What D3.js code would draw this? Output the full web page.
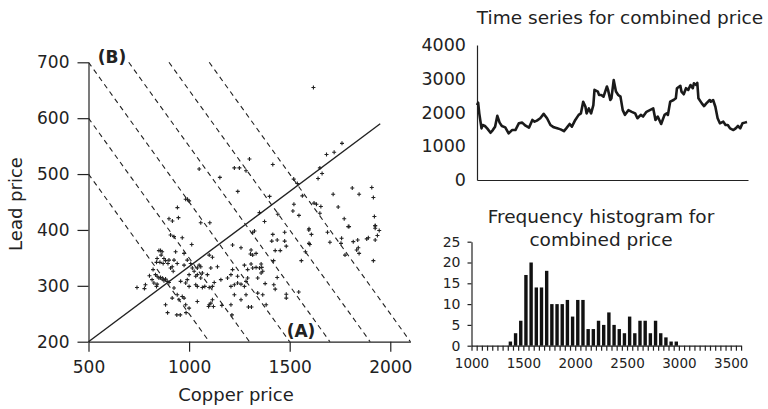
<!DOCTYPE html>
<html>
<head>
<meta charset="utf-8">
<script src="https://cdn.jsdelivr.net/npm/d3@7"></script>
<style>
body { margin: 0; background: #fff; }
svg text { font-family: "DejaVu Sans", sans-serif; fill: #222; }
</style>
</head>
<body>
<svg id="chart" width="768" height="409"></svg>
<script>
// scatter: [copper price, lead price]
const pricePoints = [
  [741,297],[783,302],[778,295],[803,318],[821,329],[841,349],[850,363],[858,363],[866,361],[861,355],
  [875,349],[883,345],[838,342],[855,342],[871,340],[833,320],[841,317],[850,314],[858,315],[866,312],
  [875,309],[883,312],[891,308],[900,306],[816,311],[825,305],[841,303],[838,299],[908,332],[916,334],
  [921,326],[895,340],[900,346],[925,346],[941,340],[933,361],[908,391],[925,388],[966,386],[1013,374],
  [975,358],[991,346],[975,337],[1008,340],[1016,332],[1000,320],[991,311],[1025,326],[1041,332],[1050,337],
  [1058,334],[1041,320],[1033,317],[1058,314],[1066,323],[958,308],[983,305],[1000,299],[1033,302],[1041,299],
  [925,296],[941,284],[950,275],[966,281],[975,278],[983,266],[1000,260],[916,278],[883,266],[1100,355],
  [1116,351],[1141,334],[1108,332],[1091,320],[1100,297],[1116,299],[1078,299],[1066,297],[1125,306],[1041,272],
  [1100,266],[1108,269],[1116,275],[1158,311],[1191,314],[1208,320],[1216,329],[1241,317],[1216,373],[1258,368],
  [1308,364],[1305,357],[1316,355],[1333,358],[1208,299],[1225,302],[1241,305],[1258,303],[1275,299],[1283,308],
  [1291,314],[1225,284],[1208,266],[1258,275],[1283,284],[1275,337],[1291,329],[1308,339],[1316,332],[1333,333],
  [1350,332],[1358,323],[1341,314],[1358,339],[1325,398],[1316,395],[1383,266],[1366,284],[1341,287],
  [1416,392],[1411,380],[1438,382],[1475,396],[1475,380],[1483,371],[1428,363],[1453,363],[1420,345],[1361,333],
  [1366,326],[1438,315],[1378,304],[1421,302],[1428,294],[1483,285],[1483,278],[1545,289],[1558,345],[1595,400],
  [1608,392],[1596,376],[1600,374],[1578,361],[1688,396],[1700,378],[1755,376],[1758,385],[1775,355],[1795,406],
  [1816,379],[1838,382],[1841,368],[1833,364],[1845,358],[1883,384],[1891,386],[1916,345],[1925,408],[1925,403],
  [1945,399],[1936,390],[1925,382],
  [1416,517],[1683,535],[1721,539],[1650,511],[1661,501],[1641,492],[1520,491],[1538,483],[1400,460],[1563,461],
  [1811,475],[1908,476],[1845,464],[1916,458],[1716,464],[1521,446],[1516,434],[1621,448],[1633,446],[1655,442],
  [1741,441],[1650,430],[1546,426],[1771,420],[1791,406],[1921,424],[1925,407],[1375,415],[1441,428],[1596,402],
  [1300,527],[1225,511],[1250,511],[1283,506],[1050,509],[1153,494],[1242,469],[992,455],[983,455],[1000,452],
  [942,440],[947,422],[900,420],[917,416],[1058,413],[1103,413],[1350,431],
  [1618,655],[1760,555],[893,252],[939,248],[956,248],[985,252],[1097,263],[1121,263],[1163,265],[1213,248],
  [1295,262],[1310,262]
];
const copperTicks = [500, 1000, 1500, 2000];
const leadTicks = [200, 300, 400, 500, 600, 700];
// dashed iso-lines: copper + 2*lead = level
const isoLevels = [1500, 1700, 1900, 2100, 2300, 2500];
const fitLine = [[500, 200], [1950, 590]];

// time series of combined price (month index, value)
const tsMonth = [0,1,2,4,5,7,9,12,14,16,18,20,22,25,28,31,34,37,40,43,46,49,51,53,56,59,62,65,68,71,
  74,77,79,82,84,87,90,92,94,96,97,99,101,103,104,107,108,110,112,115,116,118,119,121,123,125,127,129,131,134,
  137,140,142,145,147,150,153,156,158,160,163,166,168,169,171,174,176,177,180,181,183,185,187,189,191,192,194,195,196,199,
  201,203,206,207,209,211,213,215,218,220,222,224,227,229,231,233,235,237,239];
const tsValue = [2220,2290,1975,1530,1630,1600,1530,1400,1480,1580,1900,1700,1600,1560,1380,1480,1480,1680,1700,1610,
  1550,1780,1730,1760,1830,1960,1830,1630,1560,1530,1500,1450,1530,1660,1580,1780,1930,1975,2320,2170,
  1975,2120,1975,2220,2670,2620,2520,2520,2470,2770,2670,2370,2420,2960,2620,2520,2470,2070,1930,2070,
  2020,1975,1830,1930,1880,2020,2070,2120,1780,1880,1660,1930,1975,1930,2320,2370,2420,2720,2790,2620,
  2540,2720,2670,2815,2720,2865,2815,2880,2420,2270,2190,2270,2370,2320,2370,2170,1830,1680,1730,1630,
  1630,1530,1480,1530,1600,1530,1680,1700,1720];
const tsTicks = [0, 1000, 2000, 3000, 4000];

// histogram of combined price
const histBinStart = [1350,1400,1450,1500,1550,1600,1650,1700,1750,1800,1850,1900,1950,2000,2050,2100,2150,
  2200,2250,2300,2350,2400,2450,2500,2550,2600,2650,2700,2750,2800,2850,2900,2950];
const histCount = [1,3,6,17,20,14,14,18,10,10,10,11,7,11,11,4,4,6,5,8,5,4,3,7,3,6,6,3,6,3,2,1,1];
const histYTicks = [0, 5, 10, 15, 20, 25];
const histXLabels = [1000, 1500, 2000, 2500, 3000, 3500];

const INK = "#222";
const plain = d3.format("d");
const svg = d3.select("#chart");

function styleAxis(g) {
  g.selectAll("path, line").attr("stroke", INK).attr("stroke-width", 1.2);
  g.selectAll("text").attr("fill", INK);
}

// ---------- scatter ----------
const sx = d3.scaleLinear([500, 2100], [88.5, 410.4]);
const sy = d3.scaleLinear([200, 700], [341.7, 62.3]);

const scatter = svg.append("g");

scatter.append("g")
  .attr("transform", "translate(0,341.7)")
  .call(d3.axisBottom(sx).tickValues(copperTicks).tickFormat(plain)
    .tickSize(10).tickPadding(9).tickSizeOuter(0))
  .call(styleAxis)
  .call(g => g.selectAll("text").attr("font-size", 17));

scatter.append("g")
  .attr("transform", "translate(88.5,0)")
  .call(d3.axisLeft(sy).tickValues(leadTicks).tickFormat(plain)
    .tickSize(11).tickPadding(8).tickSizeOuter(0))
  .call(styleAxis)
  .call(g => g.selectAll("text").attr("font-size", 17));

scatter.selectAll("line.iso")
  .data(isoLevels)
  .enter()
  .append("line")
  .attr("class", "iso")
  .attr("x1", c => sx(Math.max(500, c - 1400)))
  .attr("y1", c => sy(Math.min(700, (c - 500) / 2)))
  .attr("x2", c => sx(c - 400))
  .attr("y2", sy(200))
  .attr("stroke", INK)
  .attr("stroke-width", 1.1)
  .attr("stroke-dasharray", "5,4");

scatter.append("path")
  .attr("d", d3.line().x(d => sx(d[0])).y(d => sy(d[1]))(fitLine))
  .attr("stroke", INK)
  .attr("stroke-width", 1.4)
  .attr("fill", "none");

const plus = d => {
  const x = sx(d[0]), y = sy(d[1]);
  return `M${x - 2},${y}H${x + 2}M${x},${y - 2}V${y + 2}`;
};
scatter.selectAll("path.pt")
  .data(pricePoints)
  .enter()
  .append("path")
  .attr("class", "pt")
  .attr("d", plus)
  .attr("stroke", "#222")
  .attr("stroke-width", 1.1);

scatter.append("text").attr("x", 112).attr("y", 63)
  .attr("text-anchor", "middle").attr("font-size", 17).attr("font-weight", "bold").text("(B)");
scatter.append("text").attr("x", 301).attr("y", 337)
  .attr("text-anchor", "middle").attr("font-size", 17).attr("font-weight", "bold").text("(A)");

scatter.append("text").attr("x", 236).attr("y", 401)
  .attr("text-anchor", "middle").attr("font-size", 18).text("Copper price");
scatter.append("text")
  .attr("transform", "translate(21.5,204) rotate(-90)")
  .attr("text-anchor", "middle").attr("font-size", 18).text("Lead price");

// ---------- time series ----------
const tx = d3.scaleLinear([0, 239], [477, 747]);
const ty = d3.scaleLinear([0, 4000], [180, 45]);

const ts = svg.append("g");
ts.append("g")
  .attr("transform", "translate(477,0)")
  .call(d3.axisLeft(ty).tickValues(tsTicks).tickFormat(plain)
    .tickSize(0).tickPadding(11).tickSizeOuter(0))
  .call(styleAxis)
  .call(g => g.selectAll("text").attr("font-size", 17.5));
ts.append("g")
  .attr("transform", "translate(0,180)")
  .call(d3.axisBottom(d3.scaleLinear([0, 240], [477, 748])).tickValues([]).tickSizeOuter(0))
  .call(styleAxis);

ts.append("path")
  .datum(d3.zip(tsMonth, tsValue))
  .attr("d", d3.line().x(d => tx(d[0])).y(d => ty(d[1])))
  .attr("fill", "none")
  .attr("stroke", "#1a1a1a")
  .attr("stroke-width", 2.6)
  .attr("stroke-linejoin", "round");

ts.append("text").attr("x", 620).attr("y", 24)
  .attr("text-anchor", "middle").attr("font-size", 18.5).text("Time series for combined price");

// ---------- histogram ----------
const hx = d3.scaleLinear([1000, 3600], [471.5, 741.1]);
const hy = d3.scaleLinear([0, 25], [345.7, 241.7]);

const hist = svg.append("g");
hist.append("g")
  .attr("transform", "translate(0,345.7)")
  .call(d3.axisBottom(hx)
    .tickValues(d3.range(1000, 3601, 50))
    .tickFormat(d => histXLabels.includes(d) ? plain(d) : "")
    .tickSize(5).tickPadding(8).tickSizeOuter(0))
  .call(styleAxis)
  .call(g => g.selectAll("text").attr("font-size", 13.5));
hist.append("g")
  .attr("transform", "translate(471.5,0)")
  .call(d3.axisLeft(hy).tickValues(histYTicks).tickFormat(plain)
    .tickSize(4).tickPadding(7).tickSizeOuter(0))
  .call(styleAxis)
  .call(g => g.selectAll("text").attr("font-size", 14));

hist.selectAll("rect")
  .data(d3.zip(histBinStart, histCount))
  .enter()
  .append("rect")
  .attr("x", d => hx(d[0] + 25) - 1.7)
  .attr("width", 3.4)
  .attr("y", d => hy(d[1]))
  .attr("height", d => hy(0) - hy(d[1]))
  .attr("fill", "#111");

hist.append("text").attr("x", 601).attr("y", 222.7)
  .attr("text-anchor", "middle").attr("font-size", 18.5).text("Frequency histogram for");
hist.append("text").attr("x", 601).attr("y", 245.7)
  .attr("text-anchor", "middle").attr("font-size", 18.5).text("combined price");
</script>
</body>
</html>
